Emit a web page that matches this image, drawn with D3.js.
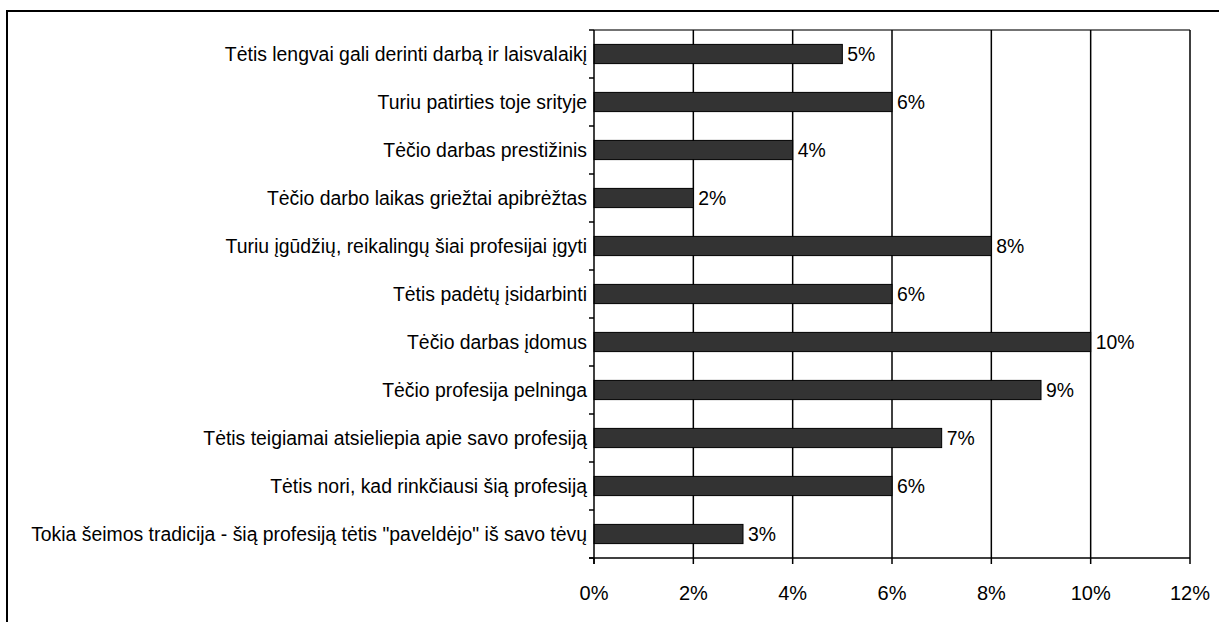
<!DOCTYPE html>
<html><head><meta charset="utf-8">
<script src="https://cdn.jsdelivr.net/npm/d3@7"></script>
<style>
html,body{margin:0;padding:0;background:#fff;overflow:hidden;}
text{font-family:"Liberation Sans",Arial,sans-serif;fill:#000;}
</style></head>
<body><svg id="c" width="1219" height="622"></svg>
<script>
const categories = [
  "Tėtis lengvai gali derinti darbą ir laisvalaikį ",
  "Turiu patirties toje srityje",
  "Tėčio darbas prestižinis",
  "Tėčio darbo laikas griežtai apibrėžtas",
  "Turiu įgūdžių, reikalingų šiai profesijai įgyti",
  "Tėtis padėtų įsidarbinti",
  "Tėčio darbas įdomus",
  "Tėčio profesija pelninga",
  "Tėtis teigiamai atsieliepia apie savo profesiją",
  "Tėtis nori, kad rinkčiausi šią profesiją",
  "Tokia šeimos tradicija - šią profesiją tėtis \"paveldėjo\" iš savo tėvų"
];
const values = [5, 6, 4, 2, 8, 6, 10, 9, 7, 6, 3];
const xTicks = [0, 2, 4, 6, 8, 10, 12];

const svg = d3.select("#c");
const L = 594, R = 1190, T = 30, B = 558;

// outer frame (right and bottom edges fall outside the picture)
svg.append("rect").attr("x",7).attr("y",11).attr("width",1300).attr("height",700)
  .attr("fill","none").attr("stroke","#000").attr("stroke-width",2);

const x = d3.scaleLinear().domain([0,12]).range([L,R]);
const y = d3.scaleBand().domain(categories).range([T,B]).paddingInner(0.6).paddingOuter(0.3);
const yb = d3.scaleLinear().domain([0, categories.length]).range([T,B]);

// plot top border
svg.append("line").attr("x1",L).attr("x2",R).attr("y1",T).attr("y2",T)
  .attr("stroke","#444").attr("stroke-width",1.5);

// gridlines
svg.append("g").selectAll("line").data(xTicks.slice(1)).join("line")
  .attr("x1",d=>x(d)).attr("x2",d=>x(d)).attr("y1",T).attr("y2",B)
  .attr("stroke","#000").attr("stroke-width",1.5);

// bars
svg.append("g").selectAll("rect").data(values).join("rect")
  .attr("x",x(0)).attr("y",(d,i)=>y(categories[i]))
  .attr("width",d=>x(d)-x(0)).attr("height",y.bandwidth())
  .attr("fill","#333333").attr("stroke","#000").attr("stroke-width",1);

// value labels
svg.append("g").selectAll("text").data(values).join("text")
  .attr("x",d=>x(d)+5).attr("y",(d,i)=>y(categories[i])+y.bandwidth()/2)
  .attr("dy","0.36em").attr("font-size",19.4).text(d=>d+"%");

// y axis
const ya = svg.append("g");
ya.append("line").attr("x1",L).attr("x2",L).attr("y1",T).attr("y2",B+6).attr("stroke","#000").attr("stroke-width",1.5);
ya.selectAll("line.t").data(d3.range(categories.length+1)).join("line").attr("class","t")
  .attr("x1",L-5).attr("x2",L).attr("y1",d=>yb(d)).attr("y2",d=>yb(d))
  .attr("stroke","#000").attr("stroke-width",1.5);
ya.selectAll("text").data(categories).join("text")
  .attr("x",L-7).attr("y",d=>y(d)+y.bandwidth()/2).attr("dy","0.36em")
  .attr("text-anchor","end").attr("font-size",19.4).text(d=>d);

// x axis
const xa = svg.append("g");
xa.append("line").attr("x1",L-5).attr("x2",R).attr("y1",B).attr("y2",B).attr("stroke","#000").attr("stroke-width",1.5);
xa.selectAll("line.t").data(xTicks).join("line").attr("class","t")
  .attr("x1",d=>x(d)).attr("x2",d=>x(d)).attr("y1",B).attr("y2",B+6)
  .attr("stroke","#000").attr("stroke-width",1.5);
xa.selectAll("text").data(xTicks).join("text")
  .attr("x",d=>x(d)).attr("y",B+35).attr("dy","0.36em")
  .attr("text-anchor","middle").attr("font-size",20).text(d=>d+"%");
</script></body></html>
